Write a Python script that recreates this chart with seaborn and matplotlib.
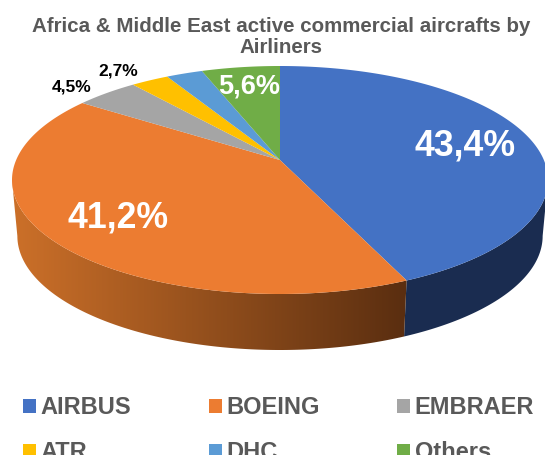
import numpy as np
import matplotlib
matplotlib.use("Agg")
import matplotlib.pyplot as plt
import seaborn as sns
from matplotlib.colors import to_rgb
from matplotlib.patches import Polygon

categories = ["AIRBUS", "BOEING", "EMBRAER", "ATR", "DHC", "Others"]
shares = [43.4, 41.2, 4.5, 2.7, 2.6, 5.6]
colors = ["#4472C4", "#EC7C31", "#A5A5A5", "#FFC000", "#5B9BD5", "#70AD47"]
share_labels = ["43,4%", "41,2%", "4,5%", "2,7%", None, "5,6%"]
title = "Africa & Middle East active commercial aircrafts by\nAirliners"

sns.set_theme(style="white")
plt.rcParams["font.family"] = ["Liberation Sans", "DejaVu Sans"]
palette = sns.color_palette(colors)

W, H = 545, 455
CX, CY, RX, RY, DEPTH = 280, 180, 268, 114, 56
K = 0.175          # perspective: how far the apex sits above the ellipse centre
BOTTOM_SCALE = 0.98

fig = plt.figure(figsize=(W / 100, H / 100), dpi=100)
ax = fig.add_axes([0, 0, 1, 1])
ax.set_xlim(-CX / RX, (W - CX) / RX)
ax.set_ylim(-(H - CY) / RY, CY / RY)
ax.set_axis_off()


def project(x, y):
    """Perspective tilt of the unit disc: the circle stays, the centre moves up."""
    den = 1 + K * y
    return x * np.sqrt(1 - K ** 2) / den, (y + K) / den


edges = 90 - np.cumsum([0] + shares) * 3.6
handles = []
for i, (a0, a1) in enumerate(zip(edges[:-1], edges[1:])):
    th = np.radians(np.linspace(a0, a1, 200))
    px, py = project(np.cos(th), np.sin(th))
    ax_, ay_ = project(0.0, 0.0)
    handles.append(ax.fill(np.r_[ax_, px], np.r_[ay_, py], color=palette[i], lw=0, zorder=3)[0])

# side wall, from the projected blue/orange boundary
bx, by = project(np.cos(np.radians(edges[1])), np.sin(np.radians(edges[1])))
phi = np.degrees(np.arctan2(by, bx))
d = DEPTH / RY


def wall(p0, p1):
    t = np.radians(np.linspace(p0, p1, 200))
    top = np.c_[np.cos(t), np.sin(t)]
    bot = np.c_[np.cos(t[::-1]) * BOTTOM_SCALE, np.sin(t[::-1]) - d]
    return np.r_[top, bot]


ax.add_patch(Polygon(wall(phi, 0), closed=True, color="#1A2C50", lw=0, zorder=1))
orange_wall = Polygon(wall(-180, phi), closed=True, color="none", lw=0, zorder=1)
ax.add_patch(orange_wall)
shade_left = np.array(to_rgb("#CC7029"))
shade_right = np.array(to_rgb("#5A2E10"))
ramp = np.linspace(0, 1, 256)[None, :, None]
grad = shade_left + (shade_right - shade_left) * ramp
img = ax.imshow(grad, extent=(-1, bx, -2, 1), aspect="auto", zorder=1.5, interpolation="bilinear")
img.set_clip_path(orange_wall)
ax.set_xlim(-CX / RX, (W - CX) / RX)
ax.set_ylim(-(H - CY) / RY, CY / RY)


def tx(x, y, s, **kw):
    fig.text(x / W, 1 - y / H, s, ha="center", va="center", fontweight="bold", **kw)


fig.text(281 / W, 1 - 37 / H, title, ha="center", va="center", fontsize=14.8,
         fontweight="bold", color="#595959", linespacing=1.15)
tx(465, 146, share_labels[0], color="white", fontsize=25.7)
tx(118, 218, share_labels[1], color="white", fontsize=25.7)
tx(72, 87, share_labels[2], color="black", fontsize=12.5)
tx(118, 71, share_labels[3], color="black", fontsize=12.5)
tx(249, 87, share_labels[5], color="white", fontsize=19.5)

order = [0, 3, 1, 4, 2, 5]
leg = fig.legend([handles[i] for i in order], [categories[i] for i in order], ncol=3,
                 loc="upper left", bbox_to_anchor=(23 / W, 1 - 396 / H),
                 frameon=False, labelcolor="#595959",
                 prop=dict(weight="bold", size=17, family="Liberation Sans"),
                 handlelength=0.55, handleheight=0.55, handletextpad=0.2,
                 columnspacing=3.27, labelspacing=0.95, borderpad=0, borderaxespad=0)
fig.savefig("out.png", dpi=100)
